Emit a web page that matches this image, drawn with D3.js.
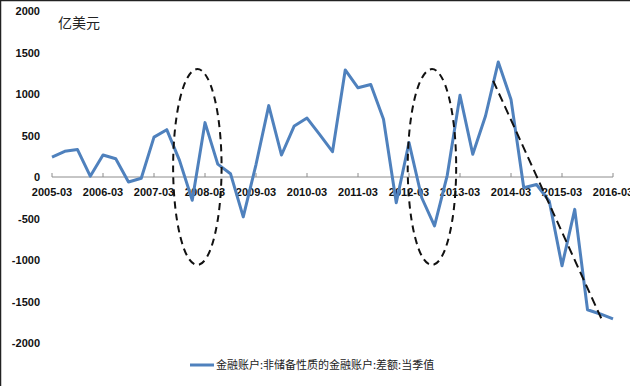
<!DOCTYPE html>
<html>
<head>
<meta charset="utf-8">
<script src="https://cdn.jsdelivr.net/npm/d3@7"></script>
<style>
  body { margin: 0; background: #fff; }
  svg { display: block; }
</style>
</head>
<body>
<svg id="chart"></svg>
<script>
// quarters 2005-03 .. 2016-03
const quarters = [];
for (let y = 2005; y <= 2016; y++) {
    ['03', '06', '09', '12'].forEach(m => {
        if (!(y === 2016 && m !== '03')) quarters.push(`${y}-${m}`);
    });
}

const values = [
    240, 310, 330, 10, 265, 220, -60, -15,
    480, 570, 200, -280, 655, 155, 40, -480,
    150, 860, 265, 615, 710, 510, 305, 1290,
    1075, 1115, 695, -310, 415, -250, -590, 20,
    985, 275, 735, 1385, 935, -130, -90, -290,
    -1070, -390, -1600, -1650, -1710
];

const yTicks = [2000, 1500, 1000, 500, 0, -500, -1000, -1500, -2000];
const xTickLabels = quarters.filter(q => q.endsWith('-03'));

const unitLabel = '亿美元';
const seriesName = '金融账户:非储备性质的金融账户:差额:当季值';

// annotation shapes, in data terms (category index, value)
const ellipses = [
    { cx: 11.4, cy: 120, rx: 1.9, ry: 1180 },
    { cx: 29.8, cy: 120, rx: 1.9, ry: 1180 }
];
const trendLine = [[34.6, 1160], [43.1, -1710]];

const width = 630, height = 386;
const margin = { top: 11, left: 52, right: 17, bottom: 43 };

const svg = d3.select('#chart')
    .attr('width', width)
    .attr('height', height);

// frame edges on top/left
svg.append('line').attr('x1', 0.5).attr('x2', 0.5).attr('y1', 0).attr('y2', height)
    .attr('stroke', '#222').attr('stroke-width', 1.5);
svg.append('line').attr('x1', 0).attr('x2', width).attr('y1', 0.5).attr('y2', 0.5)
    .attr('stroke', '#222').attr('stroke-width', 1.5);

const x = d3.scaleLinear()
    .domain([0, quarters.length - 1])
    .range([margin.left, width - margin.right]);

const y = d3.scaleLinear()
    .domain([-2000, 2000])
    .range([height - margin.bottom, margin.top]);

// y tick labels
svg.append('g')
    .selectAll('text')
    .data(yTicks)
    .enter()
    .append('text')
    .attr('x', 40)
    .attr('y', d => y(d) + 4)
    .attr('text-anchor', 'end')
    .style('font-family', 'Liberation Sans, Arial, sans-serif')
    .style('font-size', '11px')
    .style('font-weight', 'bold')
    .attr('fill', '#111')
    .text(d => d);

// x axis at zero
const xAxis = svg.append('g');
xAxis.append('line')
    .attr('x1', x(0)).attr('x2', x(quarters.length - 1))
    .attr('y1', y(0)).attr('y2', y(0))
    .attr('stroke', '#8c8c8c').attr('stroke-width', 1);

xAxis.selectAll('.tick')
    .data(xTickLabels)
    .enter()
    .append('line')
    .attr('x1', d => x(quarters.indexOf(d)))
    .attr('x2', d => x(quarters.indexOf(d)))
    .attr('y1', y(0) - 4)
    .attr('y2', y(0))
    .attr('stroke', '#8c8c8c');

xAxis.selectAll('text')
    .data(xTickLabels)
    .enter()
    .append('text')
    .attr('x', d => x(quarters.indexOf(d)))
    .attr('y', y(0) + 19)
    .attr('text-anchor', 'middle')
    .style('font-family', 'Liberation Sans, Arial, sans-serif')
    .style('font-size', '11px')
    .style('font-weight', 'bold')
    .attr('fill', '#111')
    .text(d => d);

// unit label
svg.append('text')
    .attr('x', 58)
    .attr('y', 28)
    .style('font-family', 'Noto Sans CJK SC, sans-serif')
    .style('font-size', '14px')
    .attr('fill', '#222')
    .text(unitLabel);

// series line
const line = d3.line()
    .x((d, i) => x(i))
    .y(d => y(d));

svg.append('path')
    .datum(values)
    .attr('d', line)
    .attr('fill', 'none')
    .attr('stroke', '#4f81bd')
    .attr('stroke-width', 3)
    .attr('stroke-linejoin', 'round');

// dashed annotations
svg.append('g')
    .selectAll('ellipse')
    .data(ellipses)
    .enter()
    .append('ellipse')
    .attr('cx', d => x(d.cx))
    .attr('cy', d => y(d.cy))
    .attr('rx', d => x(d.rx) - x(0))
    .attr('ry', d => y(0) - y(d.ry))
    .attr('fill', 'none')
    .attr('stroke', '#111')
    .attr('stroke-width', 2)
    .attr('stroke-dasharray', '7,5');

svg.append('line')
    .attr('x1', x(trendLine[0][0])).attr('y1', y(trendLine[0][1]))
    .attr('x2', x(trendLine[1][0])).attr('y2', y(trendLine[1][1]))
    .attr('stroke', '#111')
    .attr('stroke-width', 2)
    .attr('stroke-dasharray', '9,5');

// legend
const legend = svg.append('g');
legend.append('line')
    .attr('x1', 190).attr('x2', 214)
    .attr('y1', 365).attr('y2', 365)
    .attr('stroke', '#4f81bd').attr('stroke-width', 3);
legend.append('text')
    .attr('x', 216)
    .attr('y', 369)
    .style('font-family', 'Noto Sans CJK SC, sans-serif')
    .style('font-size', '11px')
    .attr('fill', '#222')
    .text(seriesName);
</script>
</body>
</html>
